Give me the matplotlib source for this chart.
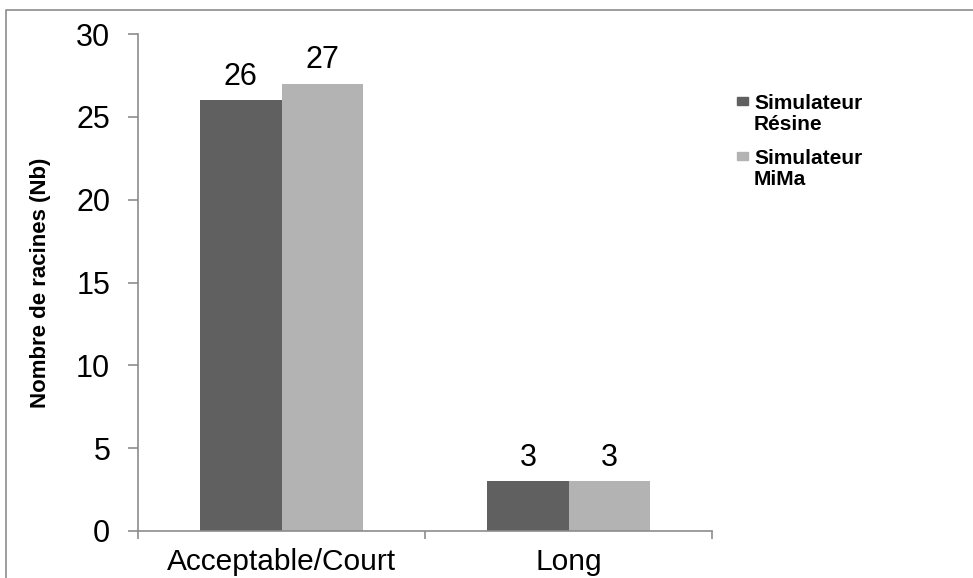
import matplotlib
matplotlib.use("Agg")
import matplotlib.pyplot as plt
from matplotlib.patches import Rectangle
from matplotlib.lines import Line2D
import numpy as np

plt.rcParams['font.family'] = ['Liberation Sans', 'DejaVu Sans']

categories = ["Acceptable/Court", "Long"]
series_names = ["Simulateur\nRésine", "Simulateur\nMiMa"]
resine = [26, 3]
mima = [27, 3]
yticks = [0, 5, 10, 15, 20, 25, 30]

dark = "#606060"
light = "#b3b3b3"
axis_grey = "#8c8c8c"

W, H = 973, 578
fig = plt.figure(figsize=(W / 100, H / 100), dpi=100)
ax = fig.add_axes([138 / W, 1 - 531 / H, (712 - 138) / W, (531 - 34) / H])

x = np.arange(len(categories))
bw = 0.283
b1 = ax.bar(x - bw / 2, resine, bw, color=dark, label=series_names[0])
b2 = ax.bar(x + bw / 2, mima, bw, color=light, label=series_names[1])

for bars, vals in ((b1, resine), (b2, mima)):
    for rect, v in zip(bars, vals):
        ax.annotate(f"{v}", (rect.get_x() + rect.get_width() / 2, v),
                    xytext=(0, 6), textcoords="offset points",
                    ha="center", va="bottom", fontsize=22)

ax.set_xlim(-0.5, len(categories) - 0.5)
ax.set_ylim(0, 30)
ax.set_yticks(yticks)
ax.set_yticklabels([str(t) for t in yticks])
ax.set_xticks(x)
ax.set_xticklabels(categories)
ax.set_xticks(np.arange(-0.5, len(categories)), minor=True)

for s in ("top", "right"):
    ax.spines[s].set_visible(False)
for s in ("left", "bottom"):
    ax.spines[s].set_color(axis_grey)
    ax.spines[s].set_linewidth(1.2)

ax.tick_params(axis="y", direction="out", length=7, width=1.2, color=axis_grey,
               labelsize=22, pad=13)
ax.tick_params(axis="x", which="major", length=0, labelsize=21.5, pad=12.5)
ax.tick_params(axis="x", which="minor", direction="out", length=6, width=1.2,
               color=axis_grey)

ax.set_ylabel("Nombre de racines (Nb)", fontsize=16, fontweight="bold")
ax.yaxis.set_label_coords(-0.152, 0.5)

# legend drawn as squares and two-line labels on the right
leg_items = [(dark, series_names[0], 97), (light, series_names[1], 152)]
for col, name, ytop in leg_items:
    fig.add_artist(Rectangle((737 / W, 1 - (ytop + 8) / H), 11 / W, 8 / H,
                             transform=fig.transFigure, color=col))
    fig.text(754 / W, 1 - (ytop - 3) / H, name, fontsize=15, fontweight="bold",
             va="top", ha="left", linespacing=1.12)

# outer chart-area frame
fig.add_artist(Line2D([6 / W, 6 / W, 1.0], [0.0, 1 - 10 / H, 1 - 10 / H],
                      transform=fig.transFigure, color=axis_grey, linewidth=1.2))

fig.savefig("out.png", dpi=100)
